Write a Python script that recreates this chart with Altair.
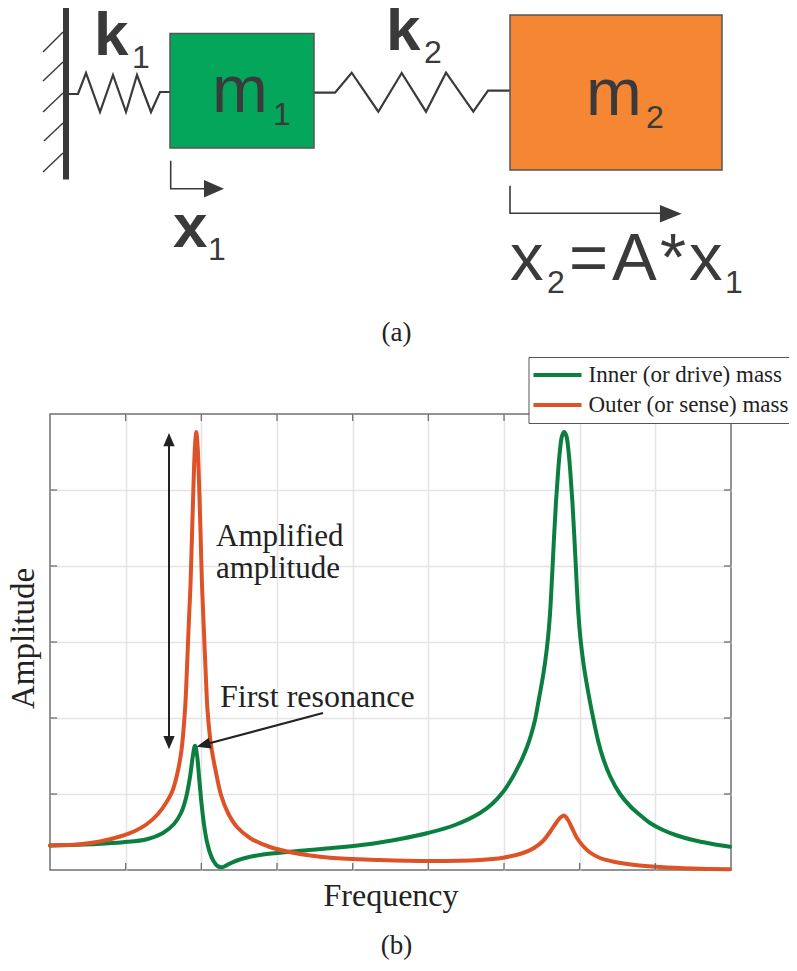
import altair as alt
import pandas as pd

# --- response curves (frequency, amplitude in arbitrary plot units) ---
inner_f = [0,47,73,97,113,124,131,136,140,143,145,147,149.5,152,154.5,157,160,163.5,167.5,171.5,175,180,187,195,213,243,280,320,350,378,405,430,442,453,461,467,472,477,481,485,488,492,495,498,500,502,504,506,508,510,512,514.2,516.4,518.4,520.4,522.4,524.4,526.4,528.4,530.4,533.4,536.4,540.4,544.4,548.4,553,560,570,580,590,600,613,627,643,660,680]
inner_a = [24.5,26,27.7,30.7,37,46,57,72,93,115,124.3,115,88,62,42,28,17,9,4,2.7,3.8,6.5,9.5,12,15.5,18.5,21.7,26,31,37,45,57,66,78,90,101,111,123,135,150,166,188,207,232,256,292,332,368,397,420,434,438,434,420,397,368,332,292,256,232,207,188,166,146,128,112,94,76,64,55,47,40,34.5,30,26.5,23.3]
outer_f = [0,30,50,70,85,97,108,116,122,127,131.5,135,136.5,138.4,140.5,142,143.5,145,146.3,147.6,149.1,150.6,152,154,156,157.5,161,165.5,171,178,187,200,220,243,280,330,380,430,453,473,484,493,500,506,510,514,518,522,527,533,540,550,565,585,610,643,680]
outer_a = [24.5,25.7,28.5,33.5,39,46,56,67,78,95,120,160,190,237,285,335,385,424,438,424,385,335,285,237,190,160,125,100,75,57,43,32,23,17.3,12.3,10,9,10,12.3,17,22,29,38,47,52,54.5,50,42,32,24,17.5,12,8,5,3,1.5,0.7]
series_names = ["Inner (or drive) mass", "Outer (or sense) mass"]
series_colors = ["#0b7f40", "#dd5327"]
x_ticks = [75.7,151.3,227,302.7,378.3,454,529.7,605.3]
y_ticks = [76,152,228,304,380]

# --- schematic geometry, in picture units ---
wall_x, wall_y = [66,66], [8,179.5]
hatch_x = [63,43, 63,43, 63,43, 63,44, 63,43]
hatch_y = [32,52, 62,81, 93,112, 123,141, 153,172]
hatch_id = [0,0,1,1,2,2,3,3,4,4]
spring1_x = [68,78,86,100,113,126,137,151,160,170]
spring1_y = [94,94,73,112,75,112,75,112,92,92]
spring2_x = [314,335,351.7,378.3,401.7,426,446,473.3,488,510]
spring2_y = [92.7,92.7,72.7,111.7,73,111.7,72.7,111.7,90.7,90.7]
box_x1, box_x2 = [170,510], [314,722]
box_y1, box_y2 = [33.5,15], [148,170]
box_fill = ["#03a65a", "#f58634"]
arrow1_x, arrow1_y = [170.7,170.7,206], [160.7,188.7,188.7]
arrow2_x, arrow2_y = [510,510,663], [185.7,213.3,213.3]
amp_x, amp_y = [169,169], [438,745]
res_x, res_y = [323,200], [713,745.8]

DARK = "#3a3a3a"
SANS = "Liberation Sans"
SERIF = "Liberation Serif"
PX = alt.Scale(domain=[50,731], nice=False, zero=False)
PY = alt.Scale(domain=[870,414], nice=False, zero=False)

def px_enc(**kw):
    return dict(
        x=alt.X("x:Q", scale=PX, axis=None),
        y=alt.Y("y:Q", scale=PY, axis=None),
        **kw,
    )

def polyline(xs, ys, color=DARK, width=2.2, ids=None):
    df = pd.DataFrame({"x": xs, "y": ys, "i": range(len(xs)), "g": ids if ids else [0]*len(xs)})
    return alt.Chart(df).mark_line(color=color, strokeWidth=width, strokeJoin="miter", clip=False).encode(
        **px_enc(order=alt.Order("i:Q"), detail="g:N"))

def text(rows, font=SANS, size=30, color=DARK, weight="normal", align="left", baseline="alphabetic"):
    df = pd.DataFrame(rows, columns=["x", "y", "t"])
    kw = dict(font=font, fontSize=size, color=color, fontWeight=weight, align=align, baseline=baseline)
    return alt.Chart(df).mark_text(**kw).encode(**px_enc(text="t:N"))

def head(x, y, length, angle, ratio=0.82, color=DARK):
    df = pd.DataFrame({"x": [x], "y": [y]})
    return alt.Chart(df).mark_point(
        shape=f"M-1,-{ratio}L1,0L-1,{ratio}Z", size=length*length, angle=angle,
        filled=True, opacity=1, color=color, strokeWidth=0).encode(**px_enc())

# --- plot ---
curves = pd.DataFrame({
    "f": inner_f + outer_f,
    "a": inner_a + outer_a,
    "s": [series_names[0]]*len(inner_f) + [series_names[1]]*len(outer_f),
    "i": list(range(len(inner_f))) + list(range(len(outer_f))),
})
plot = alt.Chart(curves).mark_line(strokeWidth=4, interpolate="catmull-rom", strokeCap="round").encode(
    x=alt.X("f:Q", scale=alt.Scale(domain=[0,681], nice=False),
            axis=alt.Axis(values=x_ticks, grid=True, gridColor="#e4e4e4", gridWidth=1.5, labels=False, ticks=False,
                          domain=False, title="Frequency", titleFont=SERIF, titleFontSize=32, titleFontWeight="normal",
                          titleColor="#222222", titlePadding=10)),
    y=alt.Y("a:Q", scale=alt.Scale(domain=[0,456], nice=False),
            axis=alt.Axis(values=y_ticks, grid=True, gridColor="#e4e4e4", gridWidth=1.5, labels=False, ticks=False,
                          domain=False, title="Amplitude", titleFont=SERIF, titleFontSize=33, titleFontWeight="normal",
                          titleColor="#222222", titlePadding=10, titleY=224)),
    color=alt.Color("s:N", scale=alt.Scale(domain=series_names, range=series_colors),
                    legend=alt.Legend(orient="none", legendX=478.5, legendY=-57, title=None,
                                      symbolType="stroke", symbolSize=2304, symbolStrokeWidth=4,
                                      labelFont=SERIF, labelFontSize=23, labelColor="#222222", labelLimit=400,
                                      labelOffset=5, fillColor="white", strokeColor="#555555", padding=3,
                                      rowPadding=0, clipHeight=30)),
    order=alt.Order("i:Q"),
)

tick_rows = []
for t in x_ticks:
    tick_rows += [(50+t, 870, 50+t, 863), (50+t, 414, 50+t, 421)]
for t in y_ticks:
    tick_rows += [(50, 870-t, 57, 870-t), (731, 870-t, 724, 870-t)]
ticks = pd.DataFrame(tick_rows, columns=["x", "y", "x2", "y2"])
tick_marks = alt.Chart(ticks).mark_rule(color="#666666", strokeWidth=1.2).encode(
    x=alt.X("x:Q", scale=PX, axis=None), x2="x2:Q",
    y=alt.Y("y:Q", scale=PY, axis=None), y2="y2:Q")

# --- schematic ---
boxes = pd.DataFrame({"x": box_x1, "x2": box_x2, "y": box_y1, "y2": box_y2, "c": box_fill})
box_marks = alt.Chart(boxes).mark_rect(stroke="#555555", strokeWidth=1.5, clip=False).encode(
    x=alt.X("x:Q", scale=PX, axis=None), x2="x2:Q",
    y=alt.Y("y:Q", scale=PY, axis=None), y2="y2:Q",
    fill=alt.Fill("c:N", scale=None))

layers = [
    plot,
    tick_marks,
    polyline(hatch_x, hatch_y, width=1.4, ids=hatch_id),
    polyline(wall_x, wall_y, width=6),
    polyline(spring1_x, spring1_y),
    polyline(spring2_x, spring2_y),
    box_marks,
    polyline(arrow1_x, arrow1_y, width=1.6), head(214, 188.7, 20, 0, 0.87),
    polyline(arrow2_x, arrow2_y, width=1.6), head(670.8, 213.8, 21.7, 0, 0.81),
    text([(94, 55, "k"), (386, 50, "k"), (173, 247, "x")], size=62, weight="bold"),
    text([(212, 111.7, "m"), (586, 115, "m"), (510, 280, "x"), (569, 280, "="), (612, 280, "A"), (660, 280, "*"), (689, 280, "x")], size=67),
    text([(132, 68, "1"), (424, 63, "2"), (273, 125, "1"), (646, 128, "2"), (208, 260, "1"), (547, 293, "2"), (725, 293, "1")], size=32),
    text([(396.5, 333, "(a)"), (396.5, 946, "(b)")], font=SERIF, size=27, color="#222222", align="center", baseline="middle"),
    text([(216, 545.7, "Amplified"), (216, 578, "amplitude")], font=SERIF, size=31, color="#222222"),
    text([(220, 706.7, "First resonance")], font=SERIF, size=32, color="#222222"),
    polyline(amp_x, amp_y, color="#222222", width=2),
    head(169, 439.7, 13.3, 270, 0.85, "#222222"), head(169, 742.6, 13.3, 90, 0.85, "#222222"),
    polyline(res_x, res_y, color="#222222", width=2),
    head(203.4, 744.9, 14, 165.1, 0.8, "#222222"),
]

chart = alt.layer(*layers).resolve_scale(x="independent", y="independent", color="independent").properties(
    width=681, height=456,
    padding={"left": 42, "top": 406, "right": 58, "bottom": 93},
    autosize=alt.AutoSizeParams(type="none"),
    background="white",
).configure_view(stroke="#707070", strokeWidth=1.5)

chart.save("out.html", embed_options={"renderer": "svg", "actions": False})
